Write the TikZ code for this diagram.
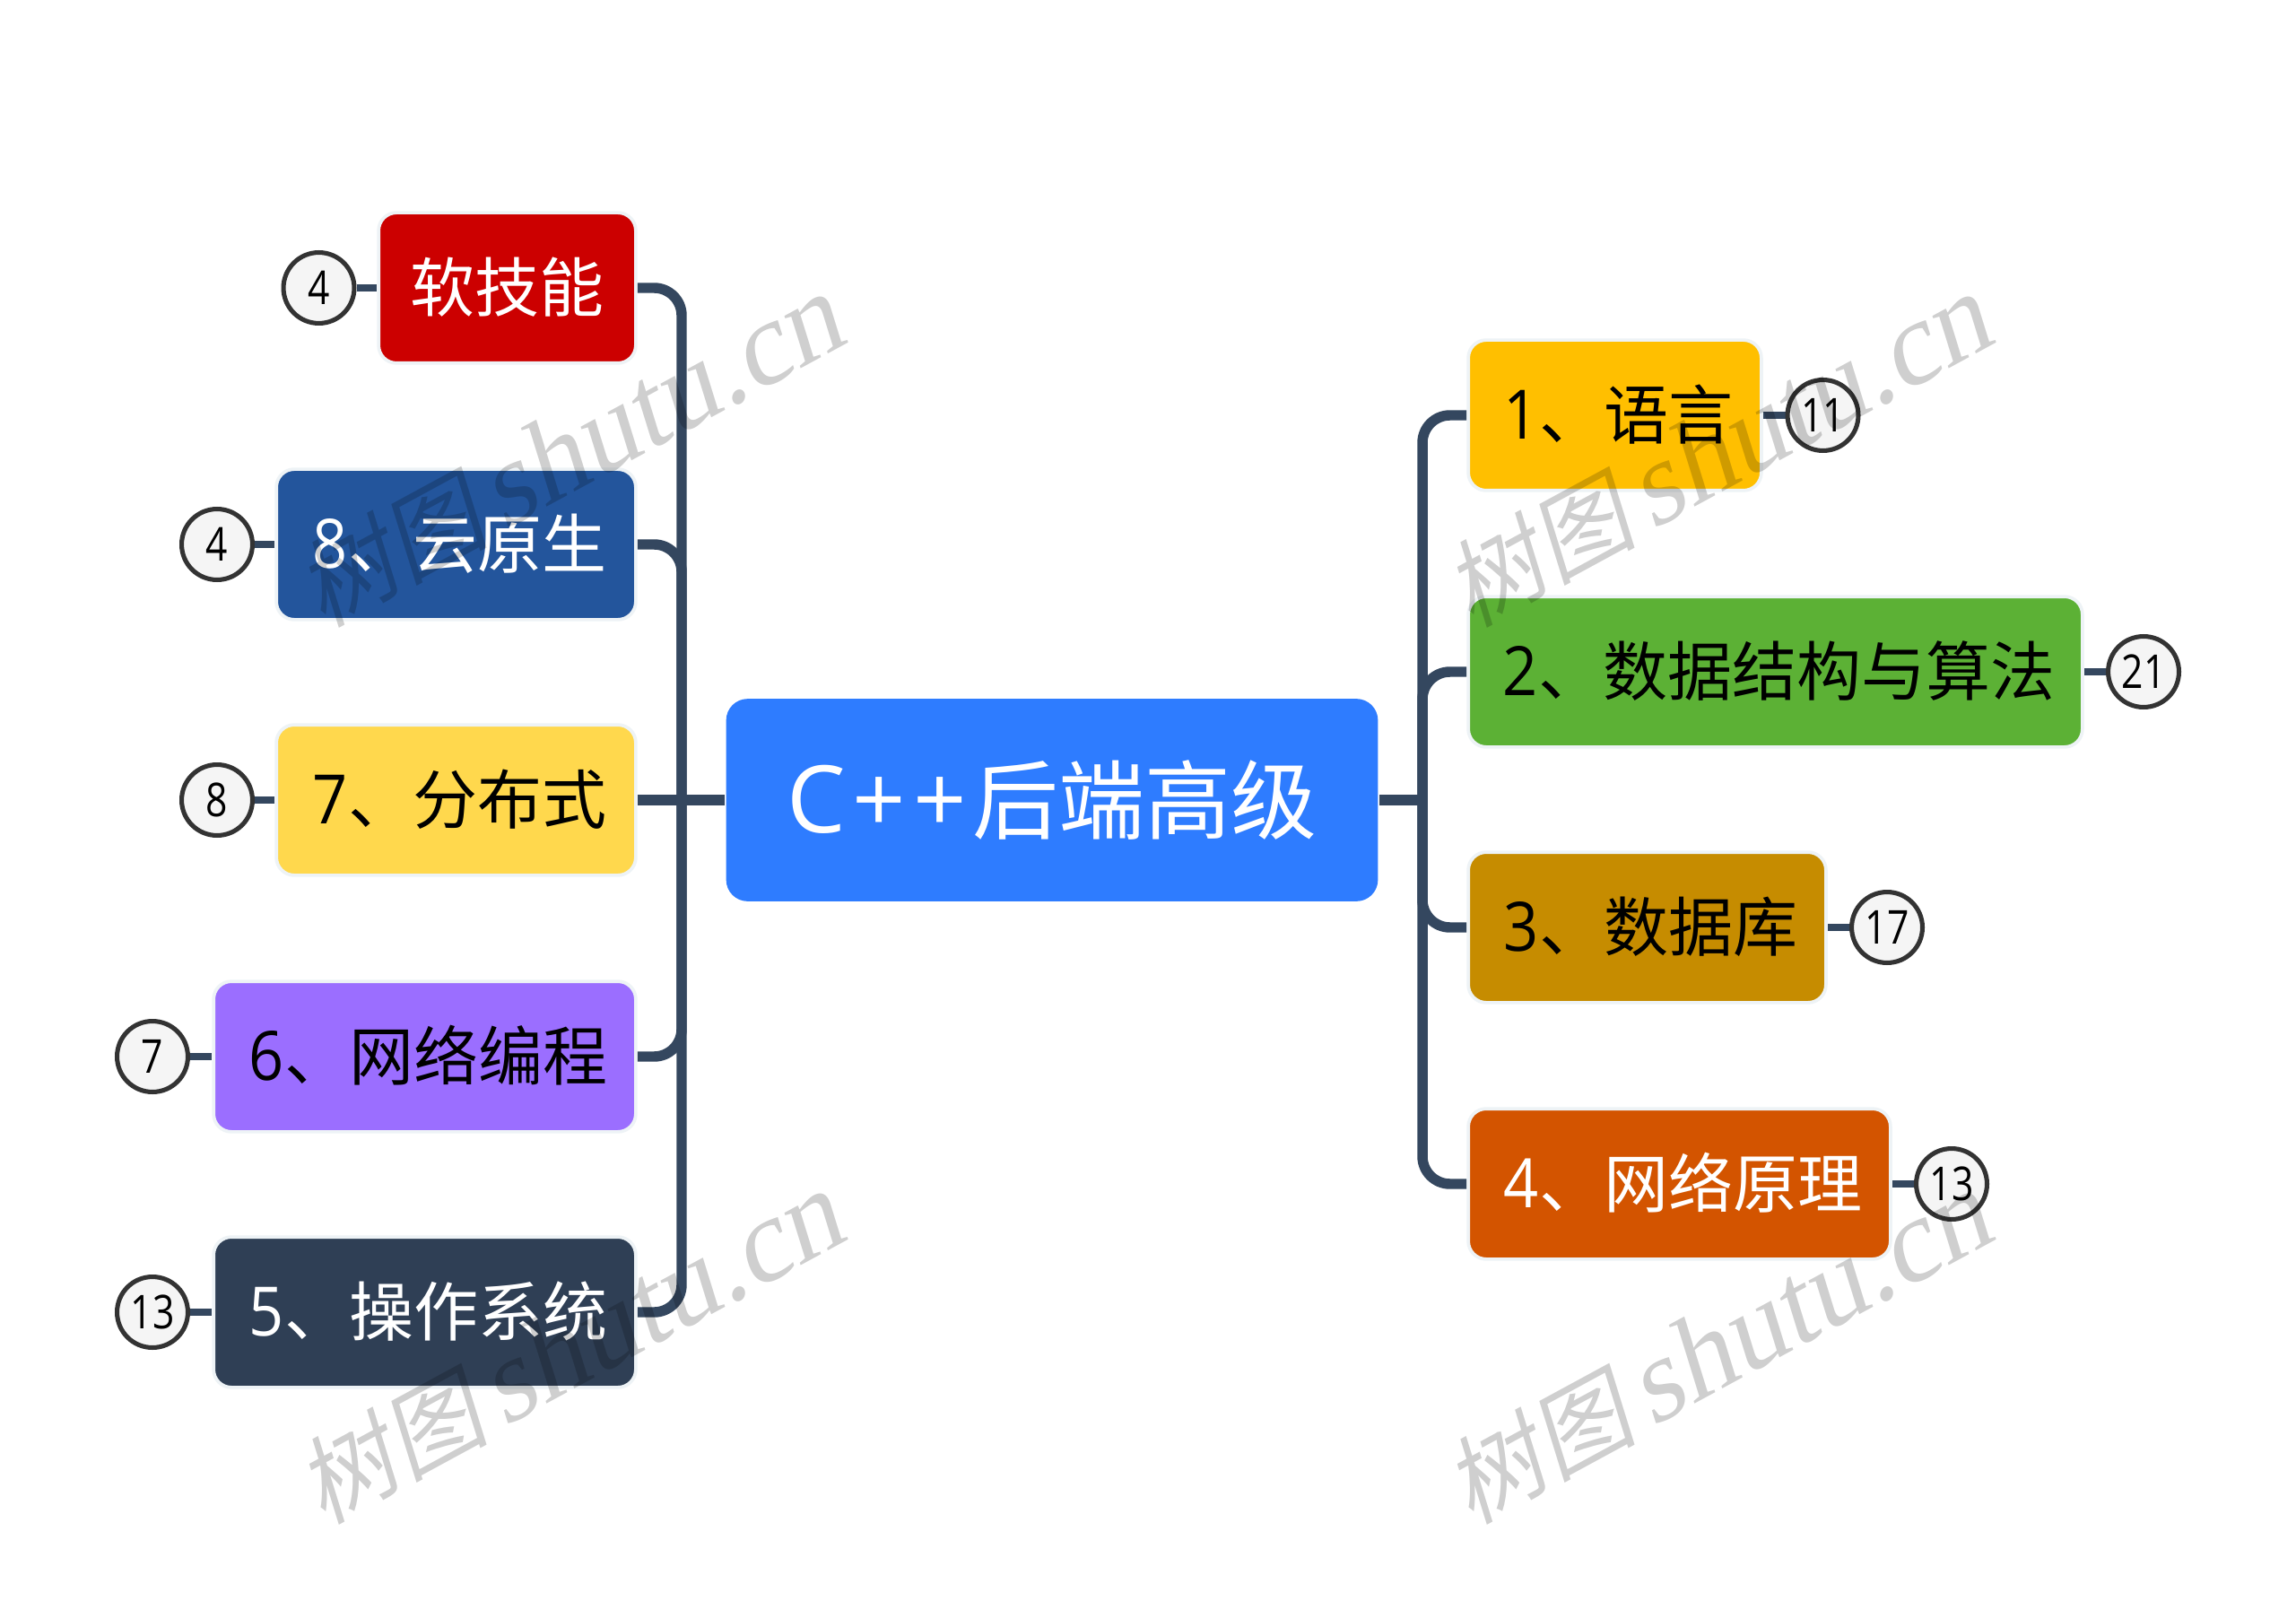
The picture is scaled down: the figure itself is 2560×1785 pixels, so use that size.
\documentclass[tikz,border=0pt]{standalone}
\usepackage{fontspec}
\usetikzlibrary{backgrounds}
\setmainfont{Open Sans}
\newfontfamily\cjk{Noto Sans CJK SC}
\newfontfamily\numfont[FakeStretch=0.82]{Open Sans}
\newfontfamily\boxnum[FakeStretch=0.9]{Open Sans}
\newfontfamily\wmlat[FakeSlant=0.2]{Liberation Serif}
\newfontfamily\wmcjk[FakeSlant=0.2]{Noto Sans CJK SC}
\definecolor{linecol}{HTML}{34475F}
\definecolor{edgepale}{HTML}{EEF3F6}
\definecolor{cred}{HTML}{CC0000}
\definecolor{cblue}{HTML}{23559C}
\definecolor{cyellow}{HTML}{FFD84D}
\definecolor{cpurple}{HTML}{9B6EFF}
\definecolor{cdark}{HTML}{2F3F55}
\definecolor{camber}{HTML}{FFBF00}
\definecolor{cgreen}{HTML}{5CB135}
\definecolor{cochre}{HTML}{C68C00}
\definecolor{corange}{HTML}{D35400}
\definecolor{croot}{HTML}{2E7CFF}
\newcommand{\boxfont}{\fontsize{27}{27}\selectfont}
\newcommand{\dg}[1]{\kern3pt{\fontsize{28.5}{28.5}\selectfont\boxnum #1}}
\tikzset{
  pxbox/.style 2 args={rectangle,rounded corners=7.5pt,draw=edgepale,line width=1.4pt,inner sep=0pt,
    minimum width=#1*0.375pt+1.4pt,minimum height=#2*0.375pt+1.4pt,font=\boxfont\cjk,text height=23pt,text depth=3pt},
  whitetext/.style={text=white},
  blacktext/.style={text=black},
  bubble/.style={circle,draw=black!80,fill=black!4,line width=1.9pt,inner sep=0pt,minimum size=29.6pt,
    font=\fontsize{19.5}{19.5}\selectfont\numfont,text=black},
  conn/.style={draw=linecol,line width=4.3pt,rounded corners=11.5pt},
  stub/.style={draw=linecol,line width=3pt},
  mark text/.style={text=black,opacity=0.19,rotate=28.5,inner sep=0pt}
}
\begin{document}
\begin{tikzpicture}[x=0.375pt,y=-0.375pt]
\useasboundingbox (0,0) rectangle (2560,1785);
% root
\node[pxbox={723}{222},draw=none,rounded corners=9pt,fill=croot,text=white,font=\fontsize{36}{36}\selectfont\cjk,text height=31pt,text depth=4pt] (root) at (1173,892) {{\fontsize{39}{39}\selectfont\rmfamily C\kern3pt+\kern3pt+\kern2.6pt}后端高级};
% left boxes
\node[pxbox={283}{164},fill=cred,whitetext] (soft) at (565.5,321) {软技能};
\node[pxbox={397}{164},fill=cblue,whitetext] (cloud) at (508.5,607) {\dg{8}、云原生};
\node[pxbox={397}{164},fill=cyellow,blacktext] (dist) at (508.5,892) {\dg{7}、分布式};
\node[pxbox={467}{164},fill=cpurple,blacktext] (net) at (473.5,1178) {\dg{6}、网络编程};
\node[pxbox={467}{164},fill=cdark,whitetext] (os) at (473.5,1463) {\dg{5}、操作系统};
% right boxes
\node[pxbox={323}{164},fill=camber,blacktext] (lang) at (1800.5,463) {\dg{1}、语言};
\node[pxbox={681}{164},fill=cgreen,blacktext] (algo) at (1979.5,749) {\dg{2}、数据结构与算法};
\node[pxbox={395}{164},fill=cochre,blacktext] (db) at (1836.5,1034) {\dg{3}、数据库};
\node[pxbox={467}{164},fill=corange,whitetext] (proto) at (1872.5,1320) {\dg{4}、网络原理};
% bubbles
\node[bubble] (b4a) at (355.5,321) {4};
\node[bubble] (b4b) at (242,607) {4};
\node[bubble] (b8) at (242,892) {8};
\node[bubble] (b7) at (170,1178) {7};
\node[bubble] (b13a) at (170,1463) {13};
\node[bubble] (b11) at (2032.5,463) {11};
\node[bubble] (b21) at (2390,749) {21};
\node[bubble] (b17) at (2104,1034) {17};
\node[bubble] (b13b) at (2176,1320) {13};
\coordinate (lt) at (760,892);
\coordinate (rt) at (1586,892);
% connectors behind the nodes
\begin{pgfonlayer}{background}
\fill[white] (0,0) rectangle (2560,1785);
\draw[conn] (soft.east) -| (lt);
\draw[conn] (cloud.east) -| (lt);
\draw[conn] (net.east) -| (lt);
\draw[conn] (os.east) -| (lt);
\draw[conn] (dist.east) -- (root.west);
\draw[conn] (lang.west) -| (rt);
\draw[conn] (algo.west) -| (rt);
\draw[conn] (db.west) -| (rt);
\draw[conn] (proto.west) -| (rt);
\draw[conn] (root.east) -- (rt);
\draw[stub] (b4a) -- (soft);
\draw[stub] (b4b) -- (cloud);
\draw[stub] (b8) -- (dist);
\draw[stub] (b7) -- (net);
\draw[stub] (b13a) -- (os);
\draw[stub] (b11) -- (lang);
\draw[stub] (b21) -- (algo);
\draw[stub] (b17) -- (db);
\draw[stub] (b13b) -- (proto);
\end{pgfonlayer}
% watermark
\foreach \wx/\wy/\wn in {635/505/wa,1915/505/wb,635/1505/wc,1915/1505/wd}{
  \node[mark text] (\wn) at (\wx,\wy) {{\fontsize{40}{40}\selectfont\wmcjk 树图}\kern6pt{\fontsize{49}{49}\selectfont\wmlat shutu.cn}};
}
\end{tikzpicture}
\end{document}
